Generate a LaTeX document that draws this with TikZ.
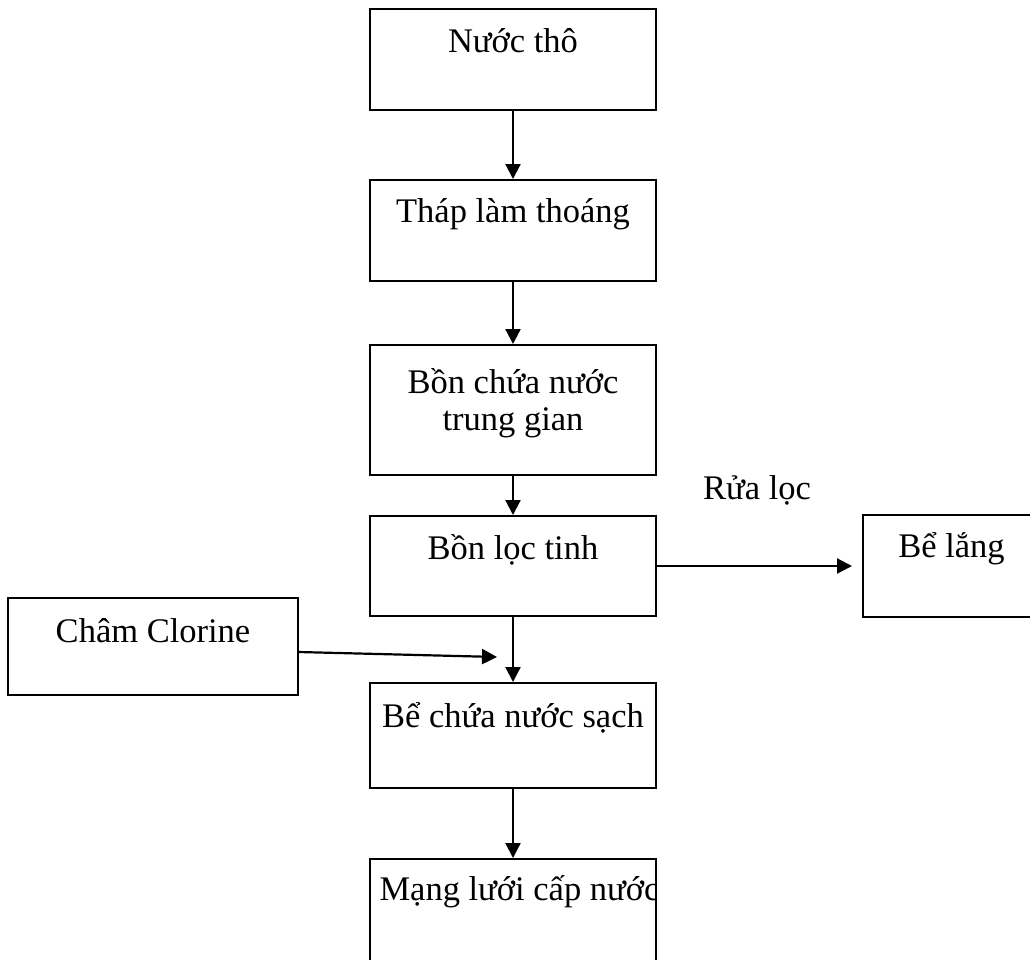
\documentclass[tikz,border=0pt]{standalone}
\usepackage{fontspec}
\setmainfont{Liberation Serif}
\usetikzlibrary{arrows.meta}

\tikzset{
	stagebox/.style={draw, line width=2pt, inner sep=0pt, minimum width=286pt},
	flow/.style={-{Triangle[length=15pt,width=15pt]}, line width=2.2pt},
	tag/.style={anchor=base, font=\fontsize{34.5}{40}\selectfont, align=center}
}

\begin{document}
\begin{tikzpicture}[x=1pt, y=-1pt]
	\clip (0,0) rectangle (1030,959);
	% main line of boxes
	\node[stagebox, minimum height=101pt] (raw) at (513,59.5) {};
	\node[tag] (rawtext) at ([yshift=-44pt]raw.north) {Nước thô};
	\node[stagebox, minimum height=101pt] (tower) at (513,230.5) {};
	\node[tag] (towertext) at ([yshift=-43pt]tower.north) {Tháp làm thoáng};
	\node[stagebox, minimum height=130pt] (tank) at (513,410) {};
	\node[tag] (tanktext) at ([yshift=-86pt]tank.north) {Bồn chứa nước\\[-3pt]trung gian};
	\node[stagebox, minimum height=100pt] (filter) at (513,566) {};
	\node[tag] (filtertext) at ([yshift=-44pt]filter.north) {Bồn lọc tinh};
	\node[stagebox, minimum height=105pt] (clean) at (513,735.5) {};
	\node[tag] (cleantext) at ([yshift=-45pt]clean.north) {Bể chứa nước sạch};
	\node[stagebox, minimum height=140pt] (network) at (513,929) {};
	\begin{scope}
		\clip (371,860) rectangle (655,959);
		\node[tag, anchor=base west] (networktext) at (376,900) {Mạng lưới cấp nước};
	\end{scope}
	% side boxes
	\node[stagebox, minimum width=177pt, minimum height=102pt] (settle) at (951.5,566) {};
	\node[tag] (settletext) at ([yshift=-43pt]settle.north) {Bể lắng};
	\node[stagebox, minimum width=290pt, minimum height=97pt] (chlorine) at (153,646.5) {};
	\node[tag] (chlorinetext) at ([yshift=-45pt]chlorine.north) {Châm Clorine};
	\coordinate (dose) at (497,657);
	% arrows
	\draw[flow] (raw) -- (tower);
	\draw[flow] (tower) -- (tank);
	\draw[flow] (tank) -- (filter);
	\draw[flow] (filter) -- (clean);
	\draw[flow] (clean) -- (network);
	\draw[flow, shorten >=10pt] (filter.east) -- (settle.west);
	\node[tag] (washtext) at (757,499) {Rửa lọc};
	\draw[flow] ([yshift=-5.5pt]chlorine.east) -- (dose);
\end{tikzpicture}
\end{document}
